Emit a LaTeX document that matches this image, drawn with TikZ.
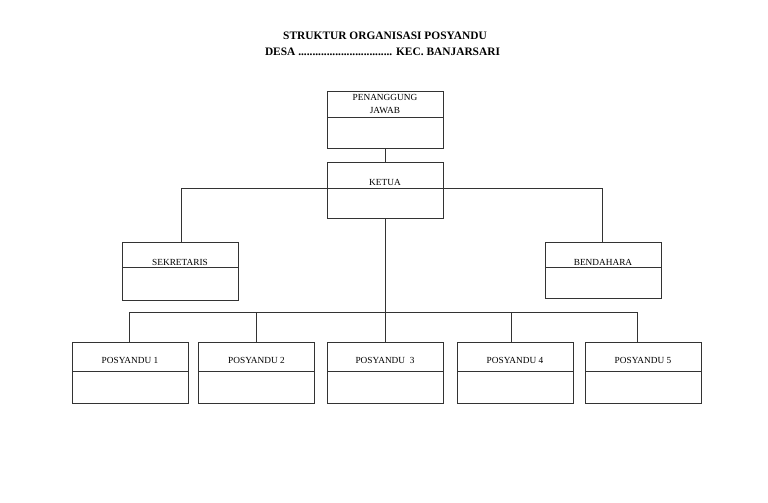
\documentclass[tikz,border=0pt]{standalone}
\usepackage{fontspec}
\setmainfont{Liberation Serif}
\usetikzlibrary{positioning}

\begin{document}
\begin{tikzpicture}[x=1pt, y=-1pt, line width=1pt, draw=black!80,
	cell/.style={draw, minimum width=116pt, inner sep=0pt, outer sep=0pt, align=center, font=\fontsize{9.3}{13}\selectfont},
	headtitle/.style={anchor=base, font=\fontsize{11.4}{14}\selectfont\bfseries}]

		\useasboundingbox (0,0) rectangle (768,503);

		\node[headtitle] (title1) at (385,40) {STRUKTUR ORGANISASI POSYANDU};
		\node[headtitle] (title2) at (382.5,55.7) {DESA ................................. KEC. BANJARSARI};

		\node[cell, minimum height=26pt] (pj) at (385,104) {PENANGGUNG\\JAWAB};
		\node[cell, minimum height=31pt, below=0pt of pj] (pj-b) {};
		\node[cell, minimum height=26pt, text height=20pt, text depth=0pt] (ketua) at (385,175) {KETUA};
		\node[cell, minimum height=30pt, below=0pt of ketua] (ketua-b) {};

		\node[cell, minimum height=25pt, text height=21pt, text depth=0pt] (sekretaris) at (180,254.5) {SEKRETARIS};
		\node[cell, minimum height=33pt, below=0pt of sekretaris] (sekretaris-b) {};
		\node[cell, minimum height=25pt, text height=21pt, text depth=0pt] (bendahara) at (603,254.5) {BENDAHARA};
		\node[cell, minimum height=31pt, below=0pt of bendahara] (bendahara-b) {};

		\node[cell, minimum height=29pt, text height=14pt, text depth=0pt] (pos1) at (130,356.5) {POSYANDU 1};
		\node[cell, minimum height=32pt, below=0pt of pos1] (pos1-b) {};
		\node[cell, minimum height=29pt, text height=14pt, text depth=0pt] (pos2) at (256.5,356.5) {POSYANDU 2};
		\node[cell, minimum height=32pt, below=0pt of pos2] (pos2-b) {};
		\node[cell, minimum height=29pt, text height=14pt, text depth=0pt] (pos3) at (385,356.5) {POSYANDU \ 3};
		\node[cell, minimum height=32pt, below=0pt of pos3] (pos3-b) {};
		\node[cell, minimum height=29pt, text height=14pt, text depth=0pt] (pos4) at (515,356.5) {POSYANDU 4};
		\node[cell, minimum height=32pt, below=0pt of pos4] (pos4-b) {};
		\node[cell, minimum height=29pt, text height=14pt, text depth=0pt] (pos5) at (643,356.5) {POSYANDU 5};
		\node[cell, minimum height=32pt, below=0pt of pos5] (pos5-b) {};

		\draw (pj-b) -- (ketua);
		\draw ([xshift=1pt]sekretaris.north) |- (ketua.south west);
		\draw ([xshift=-1pt]bendahara.north) |- (ketua.south east);
		\draw (ketua-b) -- (pos3);
		\draw ([xshift=-1pt]pos1.north) -- ++(0,-30) -| ([xshift=-5.5pt]pos5.north);
		\draw (pos2.north) -- ++(0,-30);
		\draw ([xshift=-4pt]pos4.north) -- ++(0,-30);
	\end{tikzpicture}
\end{document}
